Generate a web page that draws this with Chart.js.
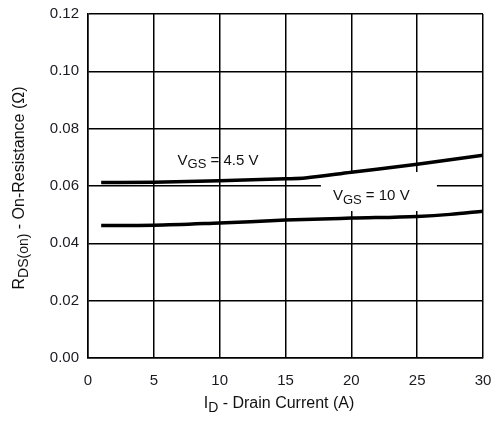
<!DOCTYPE html>
<html>
<head>
<meta charset="utf-8">
<script src="https://cdn.jsdelivr.net/npm/chart.js@4"></script>
<style>
html, body { margin: 0; padding: 0; background: #fff; }
#wrap { width: 495px; height: 423px; }
</style>
</head>
<body>
<div id="wrap"><canvas id="cvs" width="495" height="423"></canvas></div>
<script>
// drain current (A) and on-resistance (ohm)
var current45 = [1, 5, 10, 15, 16.5, 20, 25, 30];
var rds45 = [0.0612, 0.0613, 0.0618, 0.0625, 0.0628, 0.0648, 0.0676, 0.0707];
var current10 = [1, 5, 10, 15, 20, 25, 27.5, 30];
var rds10 = [0.0462, 0.0463, 0.0471, 0.0481, 0.0488, 0.0494, 0.0501, 0.0512];
var xTicks = [0, 5, 10, 15, 20, 25, 30];
var yTicks = [0, 0.02, 0.04, 0.06, 0.08, 0.10, 0.12];

var FONT = "'Liberation Sans', Arial, Helvetica, sans-serif";

function toPts(xs, ys) {
	var out = [];
	for (var i = 0; i < xs.length; i++) out.push({ x: xs[i], y: ys[i] });
	return out;
}

// text with a subscript part, drawn left-aligned from x
function subText(ctx, x, y, main, sub, rest, size) {
	ctx.font = size + "px " + FONT;
	ctx.fillText(main, x, y);
	x += ctx.measureText(main).width;
	ctx.font = (size - 2) + "px " + FONT;
	ctx.fillText(sub, x, y + 4);
	x += ctx.measureText(sub).width;
	ctx.font = size + "px " + FONT;
	ctx.fillText(rest, x, y);
	return x + ctx.measureText(rest).width;
}

function subWidth(ctx, main, sub, rest, size) {
	ctx.font = size + "px " + FONT;
	var w = ctx.measureText(main).width + ctx.measureText(rest).width;
	ctx.font = (size - 2) + "px " + FONT;
	return w + ctx.measureText(sub).width;
}

var labelPlugin = {
	id: "curveLabels",
	beforeDatasetsDraw: function (chart) {
		var ctx = chart.ctx;
		var xs = chart.scales.x, ys = chart.scales.y;
		ctx.save();
		var ax = xs.getPixelForValue(6.8), ay = ys.getPixelForValue(0.0688);
		var bx = xs.getPixelForValue(18.6), by = ys.getPixelForValue(0.0565);
		// white box behind the 10 V label
		ctx.fillStyle = "#fff";
		ctx.fillRect(bx - 12, by - 24, 116, 39);
		ctx.fillStyle = "#111";
		ctx.textBaseline = "middle";
		ctx.textAlign = "left";
		subText(ctx, ax, ay, "V", "GS", " = 4.5 V", 15);
		subText(ctx, bx, by, "V", "GS", " = 10 V", 15);
		ctx.restore();
	},
	afterDraw: function (chart) {
		var ctx = chart.ctx;
		ctx.save();
		ctx.fillStyle = "#111";
		ctx.textBaseline = "alphabetic";
		ctx.textAlign = "left";
		// x title
		var w = subWidth(ctx, "I", "D", " - Drain Current (A)", 16);
		subText(ctx, 279 - w / 2, 408, "I", "D", " - Drain Current (A)", 16);
		// y title, rotated
		ctx.translate(24, 188);
		ctx.rotate(-Math.PI / 2);
		w = subWidth(ctx, "R", "DS(on)", " - On-Resistance (\u03A9)", 16);
		subText(ctx, -w / 2, 0, "R", "DS(on)", " - On-Resistance (\u03A9)", 16);
		ctx.restore();
	}
};

var config = {
	type: "line",
	data: {
		datasets: [{
			label: "VGS = 4.5 V",
			data: toPts(current45, rds45),
			borderColor: "#000",
			borderWidth: 3.5,
			pointRadius: 0,
			cubicInterpolationMode: "monotone",
			fill: false
		}, {
			label: "VGS = 10 V",
			data: toPts(current10, rds10),
			borderColor: "#000",
			borderWidth: 3.5,
			pointRadius: 0,
			cubicInterpolationMode: "monotone",
			fill: false
		}]
	},
	options: {
		responsive: false,
		animation: false,
		layout: { padding: 0 },
		plugins: {
			legend: { display: false },
			tooltip: { enabled: false }
		},
		scales: {
			x: {
				type: "linear",
				min: 0,
				max: 30,
				afterBuildTicks: function (s) { s.ticks = xTicks.map(function (v) { return { value: v }; }); },
				afterFit: function (s) { s.height = 65; s.paddingLeft = 0; s.paddingRight = 12; },
				grid: { color: "#000", lineWidth: 1.5, drawTicks: false },
				border: { color: "#000", width: 1.5 },
				ticks: {
					color: "#1a1a22",
					padding: 14,
					maxRotation: 0,
					font: { family: FONT, size: 15 }
				}
			},
			y: {
				type: "linear",
				min: 0,
				max: 0.12,
				afterBuildTicks: function (s) { s.ticks = yTicks.map(function (v) { return { value: v }; }); },
				afterFit: function (s) { s.width = 88; s.paddingTop = 14; s.paddingBottom = 0; },
				grid: { color: "#000", lineWidth: 1.5, drawTicks: false },
				border: { color: "#000", width: 1.5 },
				ticks: {
					color: "#1a1a22",
					padding: 9,
					font: { family: FONT, size: 15 },
					callback: function (v) { return Number(v).toFixed(2); }
				}
			}
		}
	},
	plugins: [labelPlugin]
};

var chart = new Chart(document.getElementById("cvs"), config);
</script>
</body>
</html>
